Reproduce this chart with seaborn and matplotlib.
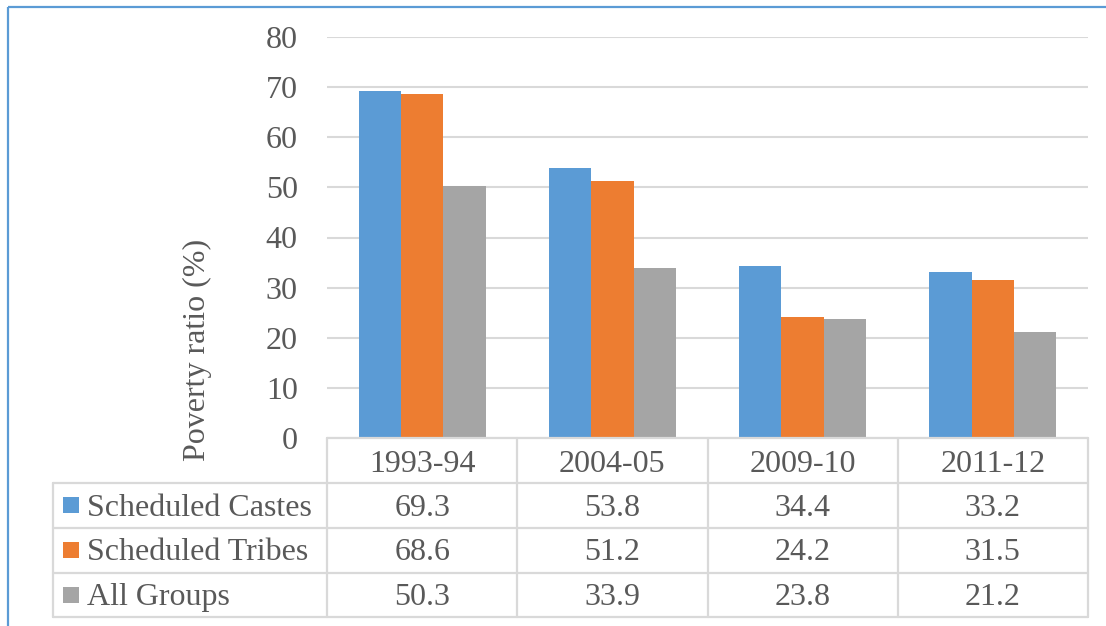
import matplotlib
matplotlib.use("Agg")
import matplotlib.pyplot as plt
import seaborn as sns
import pandas as pd
from matplotlib.patches import Rectangle

periods = ["1993-94", "2004-05", "2009-10", "2011-12"]
groups = ["Scheduled Castes", "Scheduled Tribes", "All Groups"]
sc_values = [69.3, 53.8, 34.4, 33.2]
st_values = [68.6, 51.2, 24.2, 31.5]
all_values = [50.3, 33.9, 23.8, 21.2]
colors = ["#5B9BD5", "#ED7D31", "#A5A5A5"]
yticks = [0, 10, 20, 30, 40, 50, 60, 70, 80]
ylabel = "Poverty ratio (%)"

series = [sc_values, st_values, all_values]
rows = []
for g, vals in zip(groups, series):
    for p, v in zip(periods, vals):
        rows.append({"period": p, "group": g, "value": v})
df = pd.DataFrame(rows)

sns.set_theme(style="white")
plt.rcParams["font.family"] = ["Liberation Serif", "DejaVu Serif"]
TXT = "#595959"
GRID = "#D9D9D9"
FS = 23

W, H = 1106, 626
fig = plt.figure(figsize=(W / 100, H / 100), dpi=100)
fig.patch.set_facecolor("white")

ax_left, ax_right, ax_top, ax_bot = 327, 1088, 37, 438
ax = fig.add_axes([ax_left / W, 1 - ax_bot / H, (ax_right - ax_left) / W, (ax_bot - ax_top) / H])
sns.barplot(data=df, x="period", y="value", hue="group", palette=colors,
            hue_order=groups, order=periods, width=0.667, ax=ax, legend=False,
            saturation=1, errorbar=None, zorder=3, linewidth=0, edgecolor="none")
ax.set_xlim(-0.5, len(periods) - 0.5)
ax.set_ylim(0, 80)
ax.set_yticks(yticks)
ax.set_yticklabels([str(t) for t in yticks], fontsize=FS, color=TXT)
ax.tick_params(axis="y", length=0, pad=21)
ax.set_xticks([])
ax.set_xlabel("")
ax.set_ylabel("")
for s in ax.spines.values():
    s.set_visible(False)
ax.yaxis.grid(True, color=GRID, linewidth=1.5)
ax.set_axisbelow(True)

# overlay in pixel coordinates for table and frame
ov = fig.add_axes([0, 0, 1, 1], zorder=5)
ov.set_xlim(0, W)
ov.set_ylim(H, 0)
ov.axis("off")
ov.patch.set_alpha(0)

col_w = (ax_right - ax_left) / len(periods)
col_edges = [ax_left + i * col_w for i in range(len(periods) + 1)]
tbl_left = 53
row_edges = [438, 483, 527.5, 572.5, 617]
baselines = [472, 516.5, 560.5, 605]
lw = 1.6

ov.plot([ax_left, ax_right], [row_edges[0], row_edges[0]], color=GRID, lw=lw)
for y in row_edges[1:]:
    ov.plot([tbl_left, ax_right], [y, y], color=GRID, lw=lw)
ov.plot([tbl_left, tbl_left], [row_edges[1], row_edges[-1]], color=GRID, lw=lw)
for x in col_edges:
    ov.plot([x, x], [row_edges[0], row_edges[-1]], color=GRID, lw=lw)

for i, p in enumerate(periods):
    cx = (col_edges[i] + col_edges[i + 1]) / 2
    ov.text(cx, baselines[0], p, ha="center", va="baseline", fontsize=FS, color=TXT)
for r, (g, vals, c) in enumerate(zip(groups, series, colors)):
    cy = (row_edges[r + 1] + row_edges[r + 2]) / 2
    by = baselines[r + 1]
    ov.add_patch(Rectangle((63, cy - 8), 16, 16, color=c, lw=0))
    ov.text(87, by, g, ha="left", va="baseline", fontsize=FS, color=TXT)
    for i, v in enumerate(vals):
        cx = (col_edges[i] + col_edges[i + 1]) / 2
        ov.text(cx, by, f"{v:.1f}", ha="center", va="baseline", fontsize=FS, color=TXT)

ov.text(197, 350, ylabel, rotation=90, ha="center", va="center", fontsize=FS, color=TXT)

ov.plot([7.5, W], [6.5, 6.5], color="#5B9BD5", lw=1.6, solid_capstyle="butt")
ov.plot([7.5, 7.5], [6.5, H], color="#5B9BD5", lw=1.6, solid_capstyle="butt")

fig.savefig("out.png", dpi=100, facecolor="white")
